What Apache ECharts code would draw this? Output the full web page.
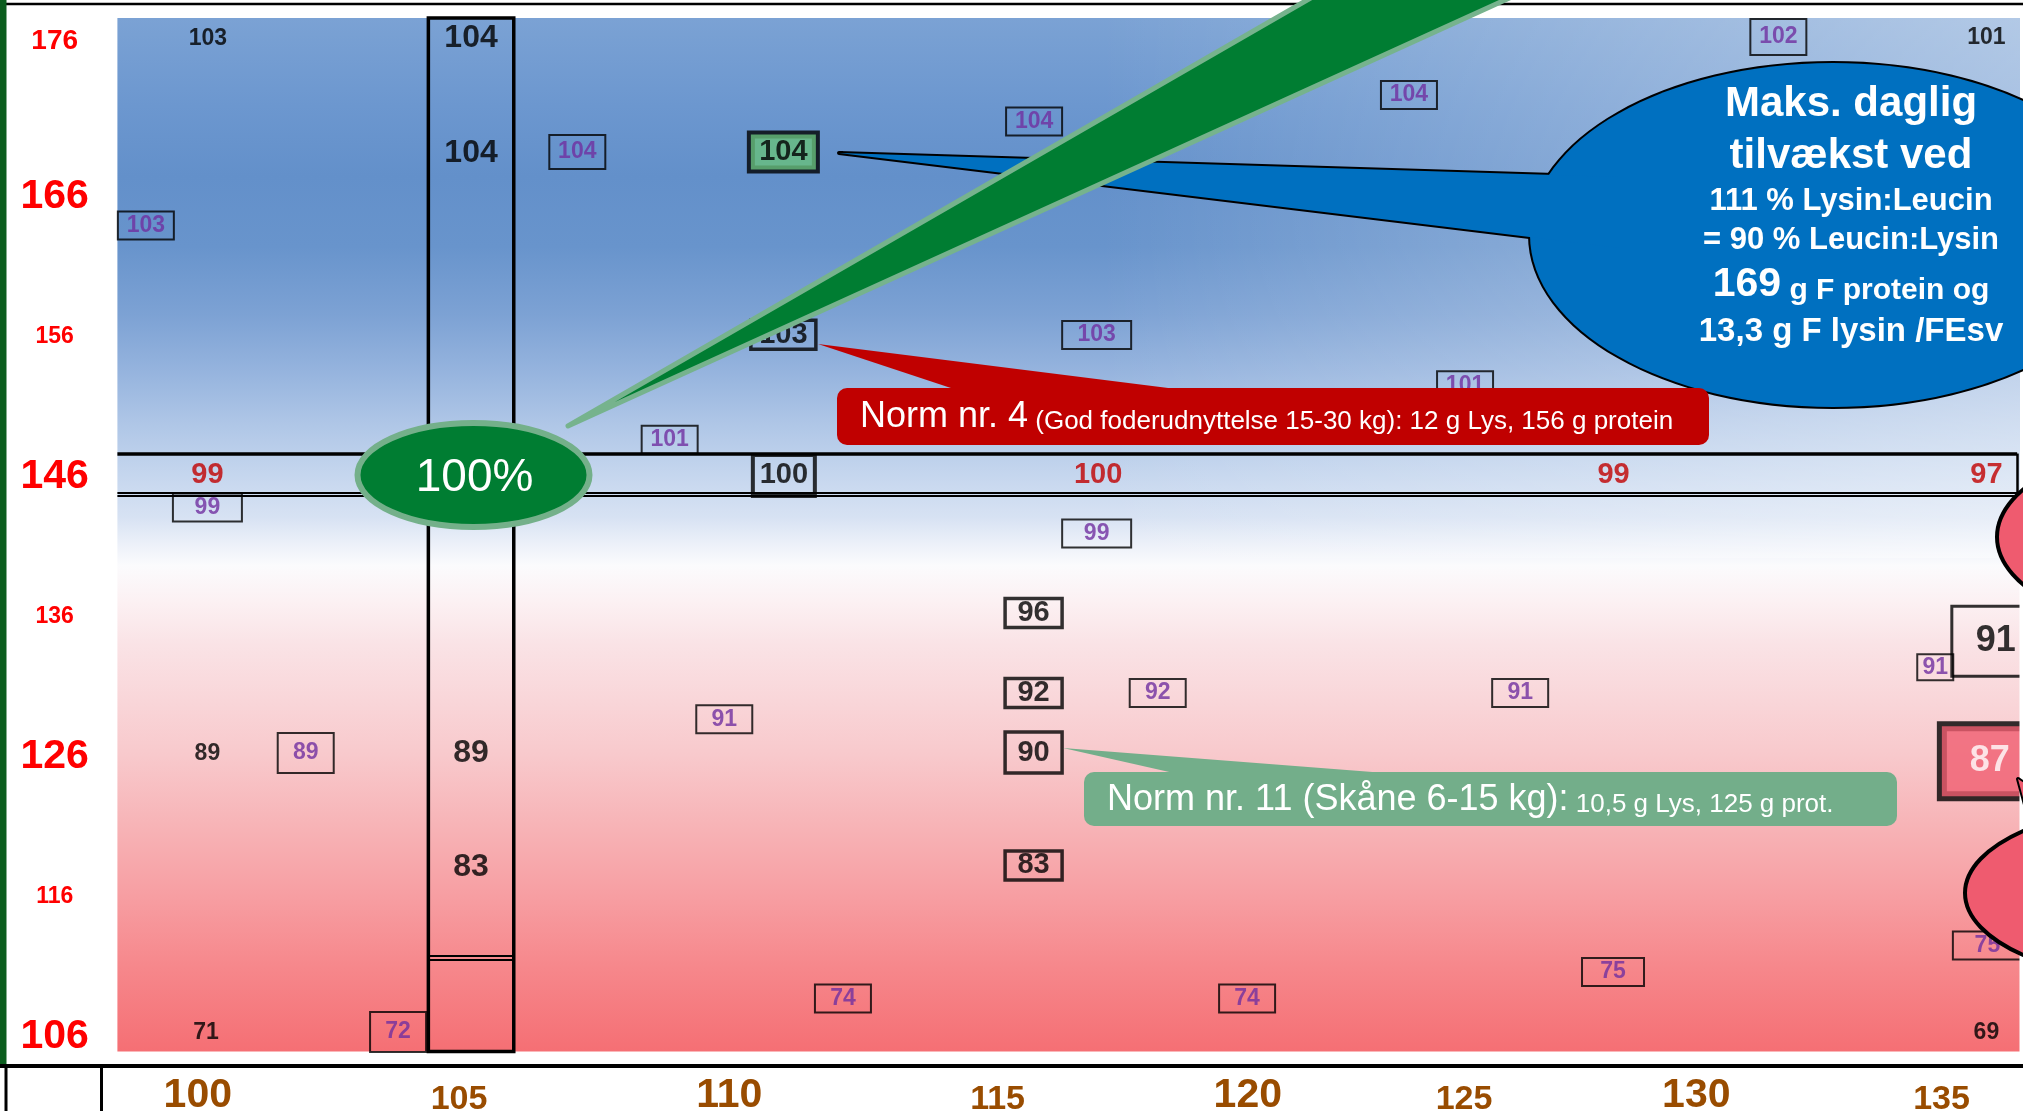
<!DOCTYPE html>
<html>
<head>
<meta charset="utf-8">
<script src="https://cdn.jsdelivr.net/npm/echarts@6/dist/echarts.min.js"></script>
<style>
html,body{margin:0;padding:0;background:#fff;overflow:hidden}
#c{width:2023px;height:1111px}
</style>
</head>
<body>
<div id="c"></div>
<script>
// ---------------- DATA ----------------
// axis ticks
const xTickLabels = [100, 105, 110, 115, 120, 125, 130, 135];
const yTickLabels = [106, 116, 126, 136, 146, 156, 166, 176];

// each entry: [Lysin:Leucin %, g protein, growth index]
const plainBlack = [[99.70,177.15,103],[135.52,177.24,101],[99.69,126.06,89],[99.66,106.13,71],[135.52,106.13,69]];
const purpleBoxed = [
  [98.45,163.81,103],[107.14,169.06,104],[116.34,171.24,104],[123.89,173.13,104],[131.33,177.27,102],
  [109.00,148.51,101],[117.60,155.99,103],[125.02,152.40,101],[99.69,143.66,99],[117.60,141.81,99],
  [110.10,128.54,91],[118.83,130.41,92],[126.13,130.41,91],[134.49,132.26,91],[101.67,126.13,89],
  [103.53,106.20,72],[112.49,108.59,74],[120.63,108.59,74],[128.00,110.49,75],[135.54,112.38,75]
];
const blackBoxed = [[116.33,136.13,96],[116.33,130.41,92],[116.33,126.16,90],[116.33,118.10,83],[111.30,145.96,100],[111.29,156.00,103]];
const optimum = [[111.29,169.06,104]];
const bandRow = [[99.69,146,99],[117.63,146,100],[128.01,146,99],[135.52,146,97]];
const column105 = [[105.0,177.18,104],[105.0,168.96,104],[105.0,126.10,89],[105.0,117.99,83]];
const edgeWhite = [[135.71,134.11,91]];
const edgeRed = [[135.59,125.55,87]];
// highlighted column (x range) and row (y range)
const highlightColumn = [104.14, 105.86];
const columnSplit = 111.5;
const highlightRow = [144.6, 147.52];

// ---------------- LAYOUT / STYLE ----------------
const FONT = '"Liberation Sans", Arial, Helvetica, sans-serif';
const X_MIN = 97.877, X_MAX = 136.197, Y_MIN = 104.81, Y_MAX = 178.63;
const BAND_RIGHT = 136.14;

const gradientStops = [
  [0,'#7BA2D4'],[0.085,'#6C97CF'],[0.153,'#6390CA'],[0.221,'#6894CC'],[0.288,'#7DA2D4'],
  [0.343,'#96B4DE'],[0.395,'#B0C7E7'],[0.442,'#C5D6EE'],[0.483,'#D7E2F3'],[0.51,'#EDF1F9'],
  [0.53,'#FBFBFD'],[0.564,'#FCF1F3'],[0.605,'#FAE3E6'],[0.66,'#F9D6D9'],[0.713,'#F8C9CC'],
  [0.78,'#F7B4B7'],[0.85,'#F79EA2'],[0.916,'#F6888C'],[1,'#F56F74']
];

const xBig = new Set([100,110,120,130]);
const xLabelNudge = {100:-25,105:-12,110:10,115:30,120:32,125:0,130:-16,135:-19};
const xRich = {};
xTickLabels.forEach(v => {
  const big = xBig.has(v), s = xLabelNudge[v] || 0;
  xRich['x' + v] = {fontFamily:FONT,fontWeight:'bold',color:'#994C00',fontSize:big?41:34,lineHeight:big?41:34,
    padding:[big?0:8, s<0?-2*s:0, 0, s>0?2*s:0]};
});
const ySize = {106:41,116:23,126:41,136:23,146:41,156:23,166:41,176:28};
const yNudgeUp = {176:16};
const yRich = {};
yTickLabels.forEach(v => {
  const u = yNudgeUp[v] || 0;
  yRich['y' + v] = {fontFamily:FONT,fontWeight:'bold',color:'#FF0000',fontSize:ySize[v],lineHeight:ySize[v],
    padding:[4,0,2*u,0]};
});

function labelSeries(name, data, labelStyle, overrides, extra) {
  overrides = overrides || {};
  return Object.assign({
    type:'scatter', name, symbolSize:1, itemStyle:{color:'rgba(0,0,0,0)'}, silent:true, z:3,
    data: data.map((d,i) => overrides[i] ? {value:d, label:overrides[i]} : {value:d}),
    label: Object.assign({show:true, position:'inside', formatter:p => String(p.value[2]),
      fontFamily:FONT, fontWeight:'bold', align:'center', verticalAlign:'middle'}, labelStyle)
  }, extra || {});
}

const purpleStyle = {fontSize:23,lineHeight:24,color:'#7030A0',width:44,padding:[2,6],borderColor:'#000',borderWidth:2};
const purpleOverrides = {
  1:{padding:[5,6]}, 4:{padding:[6,6]}, 6:{width:57}, 8:{width:57}, 9:{width:57},
  13:{width:26,padding:[1,5]}, 14:{padding:[8,6]}, 15:{padding:[8,6]}, 18:{width:50}, 19:{width:57}
};
const blackBoxStyle = {fontSize:29,lineHeight:25,color:'#000',width:49,padding:[2,4],borderColor:'#000',borderWidth:3.5};
const blackBoxOverrides = {2:{padding:[8,4]}, 4:{width:54,padding:[8,4],borderWidth:4}, 5:{width:57}};

const lineSeg = (x1,y1,x2,y2,w) => [{coord:[x1,y1],lineStyle:{width:w,color:'#000',type:'solid'}},{coord:[x2,y2]}];

const structure = {
  type:'scatter', name:'structure', data:[], silent:true, z:2,
  markArea:{silent:true, label:{show:false},
    itemStyle:{color:'rgba(0,0,0,0)',borderColor:'#000',borderWidth:3.5},
    data:[[{coord:[highlightColumn[0],Y_MIN]},{coord:[highlightColumn[1],Y_MAX]}]]},
  markLine:{silent:true, symbol:['none','none'], label:{show:false}, animation:false,
    data:[
      lineSeg(highlightColumn[0],columnSplit+0.12,highlightColumn[1],columnSplit+0.12,2),
      lineSeg(highlightColumn[0],columnSplit-0.12,highlightColumn[1],columnSplit-0.12,2),
      lineSeg(X_MIN,highlightRow[1],BAND_RIGHT,highlightRow[1],3.5),
      lineSeg(X_MIN,highlightRow[0]+0.14,BAND_RIGHT,highlightRow[0]+0.14,2),
      lineSeg(X_MIN,highlightRow[0]-0.11,BAND_RIGHT,highlightRow[0]-0.11,2),
      lineSeg(BAND_RIGHT,highlightRow[0]-0.11,BAND_RIGHT,highlightRow[1],2.5)
    ]}
};

// ---------------- ANNOTATIONS ----------------
const blueShape = {cx:1833, cy:235, rx:303, ry:172};
const blueTail = [[839,153],[1620,177],[1620,248]];
const BLUE = '#0070C0';
const whiteBold = s => Object.assign({fontFamily:FONT,fontWeight:'bold',fill:'#fff',align:'center',verticalAlign:'middle'}, s);

const graphics = [
  // right-side lightening of the blue zone
  {type:'rect', z:1, silent:true, shape:{x:1100,y:18,width:920,height:540},
   style:{fill:new echarts.graphic.LinearGradient(0,0,1,0,[{offset:0,color:'rgba(255,255,255,0)'},{offset:1,color:'rgba(255,255,255,0.42)'}])}},
  // white margin strip at the right edge (clips the cut-off boxes)
  {type:'rect', z:9, silent:true, shape:{x:2019.5,y:500,width:10,height:566}, style:{fill:'#fff'}},
  // top frame line
  {type:'line', z:5, silent:true, shape:{x1:6,y1:4,x2:2023,y2:4}, style:{stroke:'#000',lineWidth:2.5}},
  // blue callout
  {type:'ellipse', z:10, z2:0, silent:true, shape:blueShape, style:{fill:BLUE,stroke:'#000',lineWidth:4}},
  {type:'polygon', z:10, z2:1, silent:true, shape:{points:blueTail}, style:{fill:BLUE,stroke:'#000',lineWidth:4,lineJoin:'round'}},
  {type:'ellipse', z:10, z2:2, silent:true, shape:blueShape, style:{fill:BLUE}},
  {type:'polygon', z:10, z2:3, silent:true, shape:{points:blueTail}, style:{fill:BLUE}},
  {type:'text', z:15, silent:true, x:1851, y:104, style:whiteBold({text:'Maks. daglig',fontSize:42})},
  {type:'text', z:15, silent:true, x:1851, y:156, style:whiteBold({text:'tilvækst ved',fontSize:42})},
  {type:'text', z:15, silent:true, x:1851, y:201, style:whiteBold({text:'111 % Lysin:Leucin',fontSize:31})},
  {type:'text', z:15, silent:true, x:1851, y:240, style:whiteBold({text:'= 90 % Leucin:Lysin',fontSize:31})},
  {type:'text', z:15, silent:true, x:1851, y:285, style:whiteBold({text:'{a|169}{b| g F protein og}',
     rich:{a:{fontSize:41,lineHeight:41,fontFamily:FONT,fontWeight:'bold',fill:'#fff'},
           b:{fontSize:30,lineHeight:35,verticalAlign:'bottom',fontFamily:FONT,fontWeight:'bold',fill:'#fff'}}})},
  {type:'text', z:15, silent:true, x:1851, y:332, style:whiteBold({text:'13,3 g F lysin /FEsv',fontSize:33})},
  // red callout (Norm 4)
  {type:'polygon', z:11, silent:true, shape:{points:[[818,344],[1200,392],[963,392]]}, style:{fill:'#C00000'}},
  {type:'rect', z:11, silent:true, shape:{x:837,y:388,width:872,height:57,r:10}, style:{fill:'#C00000'}},
  {type:'text', z:15, silent:true, x:860, y:417, style:{text:'{a|Norm nr. 4}{b| (God foderudnyttelse 15-30 kg): 12 g Lys, 156 g protein}',
     fill:'#fff', align:'left', verticalAlign:'middle', fontFamily:FONT,
     rich:{a:{fontSize:36,lineHeight:36,fontFamily:FONT,fill:'#fff'},
           b:{fontSize:26,lineHeight:29,verticalAlign:'bottom',fontFamily:FONT,fill:'#fff'}}}},
  // green callout (Norm 11)
  {type:'polygon', z:11, silent:true, shape:{points:[[1063,748],[1424,776],[1187,776]]}, style:{fill:'#73AE8A'}},
  {type:'rect', z:11, silent:true, shape:{x:1084,y:772,width:813,height:54,r:10}, style:{fill:'#73AE8A'}},
  {type:'text', z:15, silent:true, x:1107, y:800, style:{text:'{a|Norm nr. 11 (Skåne 6-15 kg):}{b| 10,5 g Lys, 125 g prot.}',
     fill:'#fff', align:'left', verticalAlign:'middle', fontFamily:FONT,
     rich:{a:{fontSize:36,lineHeight:36,fontFamily:FONT,fill:'#fff'},
           b:{fontSize:26,lineHeight:29,verticalAlign:'bottom',fontFamily:FONT,fill:'#fff'}}}},
  // red callouts cut off at the right edge
  {type:'ellipse', z:11, silent:true, shape:{cx:2197,cy:537,rx:200,ry:96}, style:{fill:'#EF5B6F',stroke:'#000',lineWidth:4}},
  {type:'polygon', z:11, z2:0, silent:true, shape:{points:[[2018,779],[2040,860],[2110,840]]}, style:{fill:'#EF5B6F',stroke:'#000',lineWidth:4,lineJoin:'round'}},
  {type:'ellipse', z:11, z2:1, silent:true, shape:{cx:2165,cy:893,rx:200,ry:88}, style:{fill:'#EF5B6F',stroke:'#000',lineWidth:4}},
  {type:'polygon', z:11, z2:2, silent:true, shape:{points:[[2018,779],[2040,860],[2110,840]]}, style:{fill:'#EF5B6F'}},
  // green wedge + 100% ellipse
  {type:'polygon', z:12, silent:true, shape:{points:[[568,426],[1394,-50],[1615,-50]]}, style:{fill:'#007D32',stroke:'#76B38D',lineWidth:5,lineJoin:'round'}},
  {type:'ellipse', z:13, silent:true, shape:{cx:473.5,cy:475,rx:116,ry:52}, style:{fill:'#007D32',stroke:'#74B08A',lineWidth:6}},
  {type:'text', z:14, silent:true, x:474.6, y:478, style:{text:'100%',fontSize:46,fontFamily:FONT,fill:'#fff',align:'center',verticalAlign:'middle'}},
  // frame
  {type:'rect', z:20, silent:true, shape:{x:0,y:0,width:6.5,height:1066}, style:{fill:'#0B5D1E'}},
  {type:'line', z:20, silent:true, shape:{x1:0,y1:1066,x2:2023,y2:1066}, style:{stroke:'#000',lineWidth:4}},
  {type:'line', z:20, silent:true, shape:{x1:101.5,y1:1066,x2:101.5,y2:1111}, style:{stroke:'#000',lineWidth:3}},
  {type:'line', z:20, silent:true, shape:{x1:6,y1:1066,x2:6,y2:1111}, style:{stroke:'#000',lineWidth:3}}
];

const chart = echarts.init(document.getElementById('c'), null, {renderer:'canvas', width:2023, height:1111});
chart.setOption({
  animation:false,
  grid:{left:117.4, right:3, top:18, bottom:59.5, show:true, borderWidth:0, outerBoundsMode:'none', containLabel:false,
    backgroundColor:new echarts.graphic.LinearGradient(0,0,0,1,gradientStops.map(([o,c]) => ({offset:o,color:c})))},
  xAxis:{type:'value', min:X_MIN, max:X_MAX, axisLine:{show:false}, axisTick:{show:false}, splitLine:{show:false},
    axisLabel:{customValues:xTickLabels, margin:44, verticalAlign:'middle', formatter:v => `{x${v}|${v}}`, rich:xRich}},
  yAxis:{type:'value', min:Y_MIN, max:Y_MAX, axisLine:{show:false}, axisTick:{show:false}, splitLine:{show:false},
    axisLabel:{customValues:yTickLabels, margin:62.7, align:'center', verticalAlign:'middle', formatter:v => `{y${v}|${v}}`, rich:yRich}},
  series:[
    structure,
    labelSeries('plain', plainBlack, {fontSize:23,color:'#000',padding:[3,0,0,0]}),
    labelSeries('purple', purpleBoxed, purpleStyle, purpleOverrides),
    labelSeries('boxed', blackBoxed, blackBoxStyle, blackBoxOverrides),
    labelSeries('optimum', optimum, {fontSize:29,lineHeight:25,color:'#000',width:57,padding:[5,4],backgroundColor:'#68BF7C',borderColor:'#000',borderWidth:4}),
    labelSeries('band', bandRow, {fontSize:29,color:'#C00000',padding:[3,0,0,0]}),
    labelSeries('column', column105, {fontSize:32,color:'#000',padding:[4,0,0,0]}),
    labelSeries('edgeWhite', edgeWhite, {fontSize:36,lineHeight:40,color:'#000',width:76,padding:[15,6],borderColor:'#000',borderWidth:3}),
    labelSeries('edgeRed', edgeRed, {fontSize:36,lineHeight:40,color:'#fff',width:84,padding:[15,6],backgroundColor:'#F05E70',borderColor:'#000',borderWidth:5})
  ],
  graphic:{elements:graphics}
});
</script>
</body>
</html>
